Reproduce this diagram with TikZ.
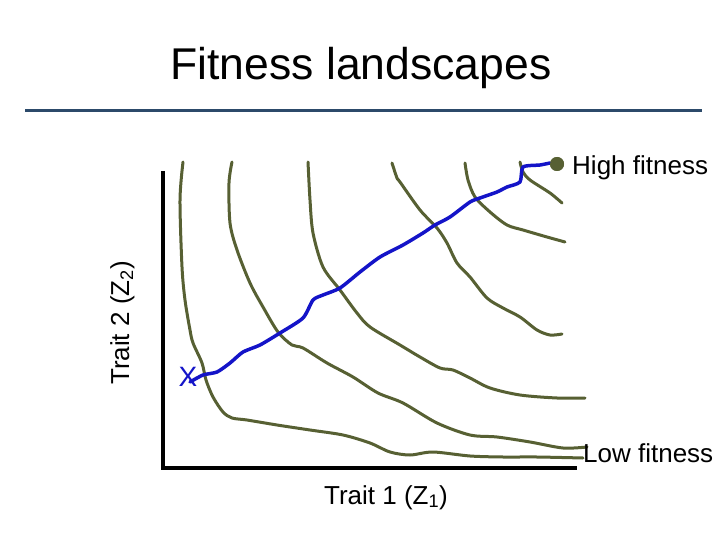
\documentclass[tikz,border=0pt]{standalone}
\usepackage{fontspec}
\setmainfont{Liberation Sans}
\usetikzlibrary{positioning}
\definecolor{ridgegreen}{HTML}{576033}
\definecolor{walkblue}{HTML}{1414C8}
\definecolor{rulenavy}{HTML}{2C4A6A}

\begin{document}
\begin{tikzpicture}[
  x=1pt, y=-1pt,
  contour/.style={draw=ridgegreen, line width=3pt, line join=round, line cap=round},
  walk/.style={draw=walkblue, line width=3.5pt, line join=round, line cap=round},
  axisline/.style={line width=3.5pt},
  lbl/.style={inner sep=0pt, font=\fontsize{26}{30}\selectfont}
]
\useasboundingbox (0,0) rectangle (720,540);
% title and rule
\node[anchor=base, inner sep=0pt, font=\fontsize{44.5}{50}\selectfont] (title) at (361,80) {Fitness landscapes};
\coordinate (ruleL) at (25,111);
\coordinate (ruleR) at (702,111);
\draw[rulenavy, line width=3pt] (ruleL) -- (ruleR);
% axes
\coordinate (origin) at (163,468);
\coordinate (ytop) at (163,171);
\coordinate (xend) at (577,468);
\draw[axisline] (ytop) -- (origin) -- (xend);
\node[lbl, anchor=base] (xlab) at (386,504) {Trait 1 (Z\textsubscript{1})};
\node[lbl, anchor=base, rotate=90] (ylab) at (129,323) {Trait 2 (Z\textsubscript{2})};
% fitness contours
\draw[contour] plot[smooth, tension=0.5] coordinates {(183,162) (180,200) (182,267) (185,300) (190,330) (193,343) (202,363) (206,380) (213,397) (223,412) (232,418) (247,420) (277,425) (310,430) (343,435) (370,443) (390,452) (410,455) (433,452) (470,456) (503,457) (537,457) (583,458)};
\draw[contour] plot[smooth, tension=0.5] coordinates {(232,162) (229,183) (230,223) (237,250) (250,283) (263,307) (278,332) (292,345) (303,348) (327,363) (353,377) (378,393) (403,403) (437,423) (470,435) (497,437) (530,442) (563,448) (587,447)};
\draw[contour] plot[smooth, tension=0.5] coordinates {(308,162) (310,200) (313,233) (323,267) (340,290) (357,313) (370,327) (400,345) (420,357) (440,368) (453,370) (470,378) (490,388) (520,395) (557,398) (585,398)};
\draw[contour] plot[smooth, tension=0.5] coordinates {(392,163) (397,178) (400,182) (420,210) (437,228) (447,243) (457,263) (470,277) (487,298) (503,308) (520,317) (537,330) (550,335) (562,334)};
\draw[contour] plot[smooth, tension=0.5] coordinates {(465,163) (468,180) (475,197) (490,212) (507,225) (523,230) (547,237) (565,242)};
\draw[contour] plot[smooth, tension=0.5] coordinates {(520,162) (523,172) (530,180) (550,193) (562,203)};
% adaptive walk
\node[lbl, text=walkblue, font=\fontsize{28}{30}\selectfont] (start) at (188,377) {X};
\node[circle, fill=ridgegreen, minimum size=14pt, inner sep=0pt] (peak) at (557,164) {};
\draw[walk] plot[smooth, tension=0.4] coordinates {(190,382) (203,375) (217,372) (230,363) (243,352) (260,345) (280,333) (303,318) (313,300) (323,295) (340,288) (360,272) (380,257) (403,245) (423,233) (435,225) (450,217) (470,202) (480,198) (497,192) (507,187) (520,182) (523,167) (540,165) (550,163)};
\node[circle, fill=ridgegreen, minimum size=14pt, inner sep=0pt] at (peak) {};
\node[lbl, anchor=base west] (high) at (572,175) {High fitness};
\node[lbl, anchor=base west] (low) at (583,462) {Low fitness};
\end{tikzpicture}
\end{document}
